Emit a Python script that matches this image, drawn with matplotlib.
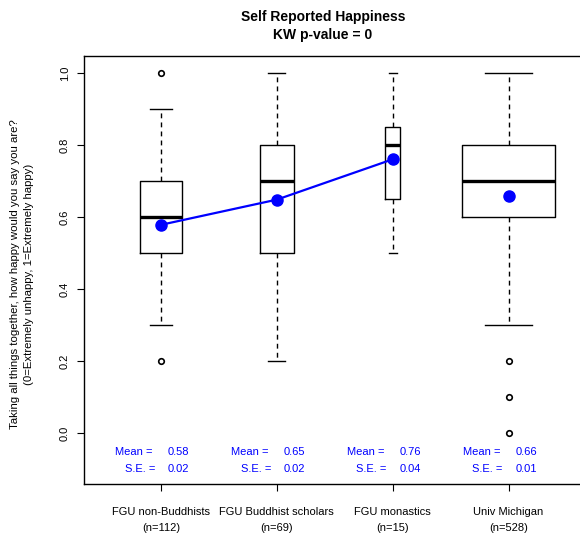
import numpy as np
import matplotlib
matplotlib.use('Agg')
import matplotlib.pyplot as plt

# group data
groups = ['FGU non-Buddhists', 'FGU Buddhist scholars', 'FGU monastics', 'Univ Michigan']
n_obs = [112, 69, 15, 528]
whislo = [0.3, 0.2, 0.5, 0.3]
q1 = [0.5, 0.5, 0.65, 0.6]
med = [0.6, 0.7, 0.8, 0.7]
q3 = [0.7, 0.8, 0.85, 0.8]
whishi = [0.9, 1.0, 1.0, 1.0]
fliers = [[1.0, 0.2], [], [], [0.2, 0.1, 0.0]]
means = [0.578, 0.648, 0.760, 0.658]
mean_txt = ['0.58', '0.65', '0.76', '0.66']
se_txt = ['0.02', '0.02', '0.04', '0.01']

plt.rcParams['font.family'] = ['Liberation Sans', 'DejaVu Sans']

fig = plt.figure(figsize=(5.8, 5.37), dpi=100)
W, H = 580, 537
# axes in pixel coords (right edge runs past the image like the reference)
left, right, top, bottom = 84, 585, 56, 484
ax = fig.add_axes([left / W, 1 - bottom / H, (right - left) / W, (bottom - top) / H])

stats = []
for i in range(len(groups)):
    stats.append(dict(whislo=whislo[i], q1=q1[i], med=med[i], q3=q3[i],
                      whishi=whishi[i], fliers=fliers[i]))

pos = np.arange(1, len(groups) + 1)
widths = 0.8 * np.sqrt(n_obs) / np.sqrt(max(n_obs))

ax.bxp(stats, positions=pos, widths=widths, capwidths=widths * 0.5,
       showfliers=True, patch_artist=False,
       boxprops=dict(color='black', linewidth=1.0),
       medianprops=dict(color='black', linewidth=2.4, solid_capstyle='butt'),
       whiskerprops=dict(color='black', linewidth=1.0, linestyle=(0, (3.5, 3))),
       capprops=dict(color='black', linewidth=1.0),
       flierprops=dict(marker='o', markerfacecolor='white', markeredgecolor='black',
                       markersize=4, markeredgewidth=1.2))

# means, first three joined
ax.plot(pos[:3], means[:3], color='blue', linewidth=1.6, zorder=4)
ax.plot(pos, means, linestyle='none', marker='o', color='blue', markersize=8, zorder=5)

for i, p in enumerate(pos):
    ax.text(p - 0.07, -0.053, 'Mean =', color='blue', ha='right', va='center', fontsize=8)
    ax.text(p + 0.06, -0.053, mean_txt[i], color='blue', ha='left', va='center', fontsize=8)
    ax.text(p - 0.05, -0.100, 'S.E. =', color='blue', ha='right', va='center', fontsize=8)
    ax.text(p + 0.06, -0.100, se_txt[i], color='blue', ha='left', va='center', fontsize=8)

ax.set_xlim(0.336, 4.66)
ax.set_ylim(-0.142, 1.047)
ax.set_xticks(pos)
ax.set_xticklabels([f'{g}\n(n={n})' for g, n in zip(groups, n_obs)], fontsize=8, linespacing=1.75)
ax.set_yticks([0.0, 0.2, 0.4, 0.6, 0.8, 1.0])
ax.set_yticklabels(['0.0', '0.2', '0.4', '0.6', '0.8', '1.0'], fontsize=8, rotation=90, va='center')
ax.tick_params(axis='both', length=5, width=0.8, direction='out')
ax.tick_params(axis='x', pad=11.5)
ax.tick_params(axis='y', pad=5)
for s in ax.spines.values():
    s.set_linewidth(1.0)

ax.set_ylabel('Taking all things together, how happy would you say you are?\n'
              '(0=Extremely unhappy, 1=Extremely happy)', fontsize=8.2, linespacing=1.45)
ax.yaxis.set_label_coords(-0.1, 0.49)

fig.text(323 / W, 1 - 26 / H, 'Self Reported Happiness\nKW p-value = 0',
         ha='center', va='center', fontsize=10, fontweight='bold', linespacing=1.3)

fig.savefig('out.png', dpi=100)
